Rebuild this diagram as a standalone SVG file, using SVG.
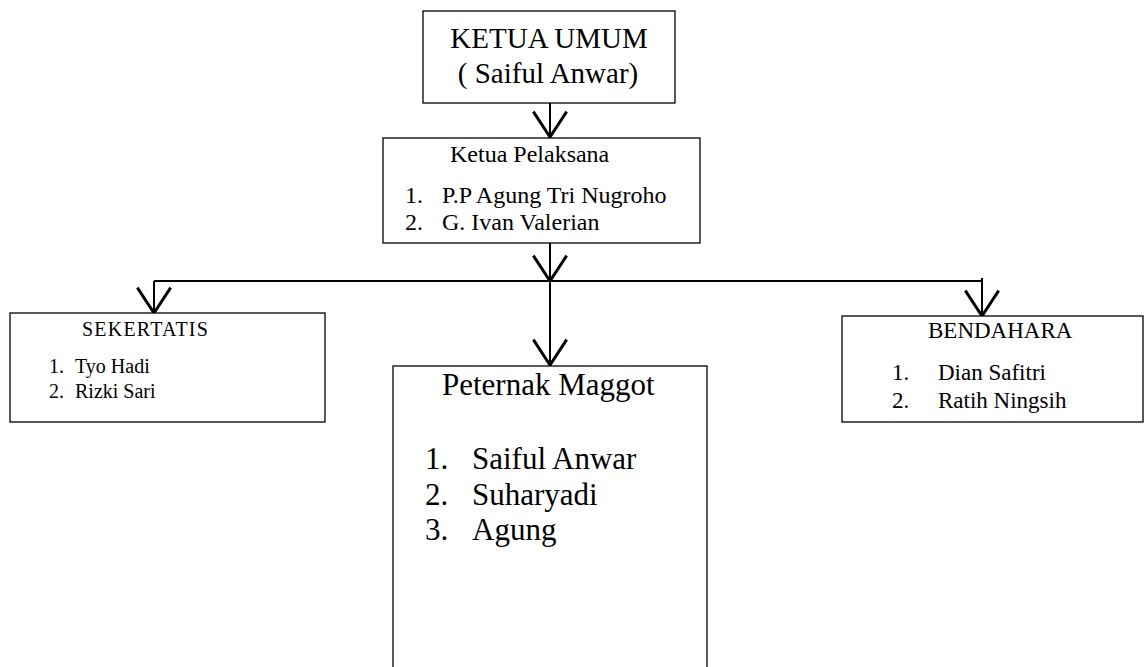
<svg xmlns="http://www.w3.org/2000/svg" width="1146" height="667" viewBox="0 0 1146 667">
<style>
  .box { fill: #ffffff; stroke: #000000; stroke-width: 1.3; }
  .t { font-family: "Liberation Serif", "Times New Roman", serif; fill: #000000; }
  .conn { fill: none; stroke: #000000; stroke-width: 2; }
</style>
<defs>
  <marker id="arr" markerUnits="userSpaceOnUse" markerWidth="40" markerHeight="40" refX="0" refY="0" orient="auto" overflow="visible" viewBox="-25 -15 30 30">
    <path d="M-19,-12.5 L0,0 L-19,12.5" fill="none" stroke="#000" stroke-width="2.2"/>
  </marker>
</defs>
<rect width="1146" height="667" fill="#ffffff"/>

<g id="connectors">
  <line class="conn" x1="550" y1="103" x2="550" y2="137" marker-end="url(#arr)"/>
  <line class="conn" x1="550" y1="243" x2="550" y2="281" marker-end="url(#arr)"/>
  <line class="conn" x1="154" y1="281" x2="982" y2="281"/>
  <line class="conn" x1="154" y1="281" x2="154" y2="313" marker-end="url(#arr)"/>
  <line class="conn" x1="982" y1="278" x2="982" y2="316" marker-end="url(#arr)"/>
  <line class="conn" x1="550" y1="283" x2="550" y2="365" stroke-width="3" marker-end="url(#arr)"/>
</g>

<g id="ketua-umum">
  <rect class="box" x="423" y="11" width="252" height="92"/>
  <text class="t" x="549" y="48" font-size="29" text-anchor="middle">KETUA UMUM</text>
  <text class="t" x="548" y="83" font-size="29" text-anchor="middle">( Saiful Anwar)</text>
</g>

<g id="ketua-pelaksana">
  <rect class="box" x="383" y="138" width="317" height="105"/>
  <text class="t" x="450" y="162" font-size="24">Ketua Pelaksana</text>
  <text class="t" x="405" y="203" font-size="24">1.</text>
  <text class="t" x="442" y="203" font-size="24">P.P Agung Tri Nugroho</text>
  <text class="t" x="405" y="230" font-size="24">2.</text>
  <text class="t" x="442" y="230" font-size="24">G. Ivan Valerian</text>
</g>

<g id="sekertatis">
  <rect class="box" x="10" y="313" width="315" height="109"/>
  <text class="t" x="82" y="336" font-size="20" letter-spacing="1.2">SEKERTATIS</text>
  <text class="t" x="49" y="373" font-size="20">1.</text>
  <text class="t" x="75" y="373" font-size="20">Tyo Hadi</text>
  <text class="t" x="49" y="398" font-size="20">2.</text>
  <text class="t" x="75" y="398" font-size="20">Rizki Sari</text>
</g>

<g id="bendahara">
  <rect class="box" x="842" y="316" width="301" height="106"/>
  <text class="t" x="928" y="338" font-size="23">BENDAHARA</text>
  <text class="t" x="892" y="380" font-size="23">1.</text>
  <text class="t" x="938" y="380" font-size="23">Dian Safitri</text>
  <text class="t" x="892" y="408" font-size="23">2.</text>
  <text class="t" x="938" y="408" font-size="23">Ratih Ningsih</text>
</g>

<g id="peternak-maggot">
  <rect class="box" x="393" y="366" width="314" height="340"/>
  <text class="t" x="442" y="395" font-size="31">Peternak Maggot</text>
  <text class="t" x="425" y="469" font-size="31">1.</text>
  <text class="t" x="472" y="469" font-size="31">Saiful Anwar</text>
  <text class="t" x="425" y="505" font-size="31">2.</text>
  <text class="t" x="472" y="505" font-size="31">Suharyadi</text>
  <text class="t" x="425" y="540" font-size="31">3.</text>
  <text class="t" x="472" y="540" font-size="31">Agung</text>
</g>
</svg>
